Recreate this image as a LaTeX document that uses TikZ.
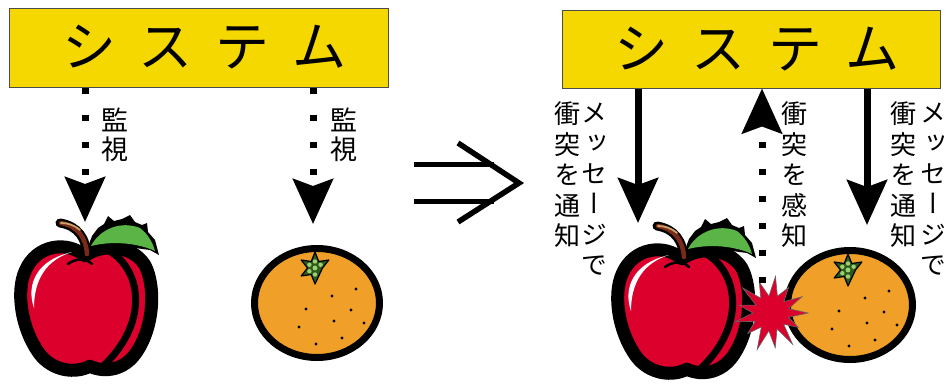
\documentclass[tikz,border=0pt]{standalone}
\usepackage{fontspec}
\usetikzlibrary{arrows.meta}
\newfontfamily\jp{Noto Sans CJK JP}
\newfontfamily\jpv[RawFeature=+vert]{Noto Sans CJK JP}

\definecolor{sysyellow}{HTML}{F5D800}
\definecolor{applered}{HTML}{DC002C}
\definecolor{mikanorange}{HTML}{F0A028}
\definecolor{leafgreen}{HTML}{5AB446}
\definecolor{calyxgreen}{HTML}{2E5A1E}
\definecolor{calyxlight}{HTML}{9CD070}
\definecolor{stembrown}{HTML}{7B2A1A}
\definecolor{stemlight}{HTML}{C9A26C}

\tikzset{
  sysbox/.style={draw=black!70, line width=1pt, fill=sysyellow, inner sep=0pt,
    font=\jp\fontsize{54}{60}\selectfont},
  watch/.style={line width=7pt, dash pattern=on 6pt off 21pt,
    -{Stealth[length=45pt,width=40pt,inset=7pt]}},
  tell/.style={line width=7pt, -{Stealth[length=45pt,width=40pt,inset=7pt]}},
  tate/.style={align=center, inner sep=0pt, font=\jpv\fontsize{26}{30.5}\selectfont},
  % りんご
  apple/.pic={
    \path[fill=black, line join=round] (0,-48) -- (6,-64) -- (12,-72) -- (18,-76) -- (22,-84)
      -- (28,-79) -- (36,-81) -- (44,-85) -- (49,-78) -- (56,-75) -- (61,-77) -- (62,-68)
      -- (69,-60) -- (73,-45) -- (64,-50) -- (49,-52) -- (32,-55) -- (14,-52) -- cycle;
    \path[fill=applered, draw=black, line width=13pt, line join=round, scale=0.92]
      (-1,-48) .. controls (14,-60) and (49,-62) .. (64,-38)
      .. controls (76,-15) and (74,30) .. (54,58)
      .. controls (42,75) and (22,80) .. (4,72)
      .. controls (-11,80) and (-36,78) .. (-51,58)
      .. controls (-71,30) and (-76,-10) .. (-66,-32)
      .. controls (-54,-60) and (-21,-65) .. (-1,-48) -- cycle;
    \draw[line width=7pt] (22,-50) .. controls (57,-30) and (63,25) .. (15,68);
    \fill[white] (-52,8) .. controls (-60,-15) and (-50,-40) .. (-14,-48)
      .. controls (-40,-40) and (-52,-20) .. (-52,8) -- cycle;
    \draw[line width=2.5pt, line cap=round] (-18,-36) .. controls (-10,-42) and (0,-42) .. (6,-36);
    \fill[leafgreen] (5,-54) .. controls (13,-70) and (34,-80) .. (54,-72)
      .. controls (62,-66) and (67,-57) .. (69,-49)
      .. controls (54,-56) and (29,-60) .. (5,-54) -- cycle;
    \draw[line width=9pt, line cap=round] (1,-44) .. controls (0,-62) and (-8,-74) .. (-26,-77);
    \draw[stembrown, line width=4.5pt, line cap=round] (1,-46) .. controls (0,-62) and (-8,-74) .. (-25,-77);
    \draw[stemlight, line width=1.8pt, line cap=round] (-6,-70) .. controls (-12,-75) and (-18,-77) .. (-25,-77);
  },
  % みかん
  mikan/.pic={
    \path[fill=mikanorange, draw=black, line width=7pt] (0,0) ellipse [x radius=62.5, y radius=54.5];
    \begin{scope}[shift={(-2,-35)}]
      \filldraw[fill=calyxgreen, draw=black, line width=1.2pt, line join=round]
        (90:16) \foreach \a in {90,150,...,330} { -- (\a:16) -- (\a+30:7.5) } -- cycle;
      \foreach \a in {90,150,...,330} \fill[calyxlight] (\a:6.5) circle [radius=2.2];
      \fill[calyxlight] (0,0) circle [radius=2.4];
    \end{scope}
    \foreach \p in {(15,-7),(39,-14),(-11,6),(34,7),(17,18),(47,20),(-18,24),(25,35),(-1,41)}
      \fill \p circle [radius=1.7];
  }
}

\begin{document}
\begin{tikzpicture}[x=1pt, y=-1pt]
  \useasboundingbox (0,0) rectangle (948,383);

  % 果物
  \pic at (86,300) {apple};
  \pic at (317,303) {mikan};
  \pic at (683,303) {apple};
  \pic at (850,305) {mikan};

  % 衝突
  \begin{scope}[shift={(771,313)}]
    \filldraw[fill=applered, draw=black!60, line width=0.6pt] (0:37)
      \foreach \r [count=\i] in {18,31,17,38,17,35,18,39,17,31,18,37,18,33,17,38,18,33,17,37,18,31,17,35,18}
      { -- ({\i*360/26}:\r) } -- cycle;
  \end{scope}

  % システム
  \node[sysbox, minimum width=379pt, minimum height=79pt] (sysL) at (198.5,47.5)
    {\hspace{12pt}シ\hspace{23pt}ス\hspace{23pt}テ\hspace{23pt}ム};
  \node[sysbox, minimum width=378pt, minimum height=78pt] (sysR) at (751,49)
    {\hspace{12pt}シ\hspace{23pt}ス\hspace{23pt}テ\hspace{23pt}ム};

  \coordinate (watchApple) at (85,222);
  \coordinate (watchMikan) at (313,224);
  \coordinate (tellApple) at (638,223);
  \coordinate (tellMikan) at (867,225);
  \coordinate (bump) at (762,283);

  \draw[watch] (sysL.south -| watchApple) -- (watchApple);
  \draw[watch] (sysL.south -| watchMikan) -- (watchMikan);
  \draw[tell] (sysR.south -| tellApple) -- (tellApple);
  \draw[tell] (sysR.south -| tellMikan) -- (tellMikan);
  \draw[watch] (bump) -- (sysR.south -| bump);

  % ⇒
  \draw[line width=5.5pt] (414,164.5) -- (494,164.5) (414,201.5) -- (494,201.5);
  \draw[line width=5.5pt, miter limit=10] (458,143) -- (519,183) -- (458,222);

  % ラベル
  \node[tate, font=\jpv\fontsize{27}{29}\selectfont] (kanshiApple) at (115,134.5) {監\\視};
  \node[tate, font=\jpv\fontsize{27}{29}\selectfont] (kanshiMikan) at (344,134.5) {監\\視};
  \node[tate] (msgApple) at (594,189) {メ\\ッ\\セ\\ー\\ジ\\で};
  \node[tate] (tsuchiApple) at (567,175) {衝\\突\\を\\通\\知};
  \node[tate] (kanchi) at (794,175) {衝\\突\\を\\感\\知};
  \node[tate] (msgMikan) at (933,189) {メ\\ッ\\セ\\ー\\ジ\\で};
  \node[tate] (tsuchiMikan) at (903,175) {衝\\突\\を\\通\\知};
\end{tikzpicture}
\end{document}
